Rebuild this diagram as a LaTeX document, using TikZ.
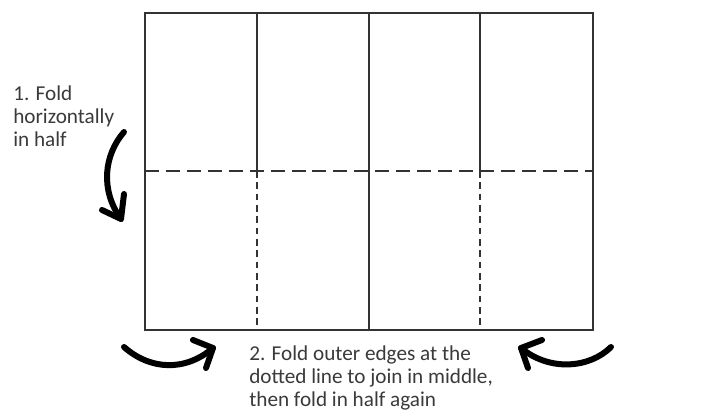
\documentclass[tikz,border=0pt]{standalone}
\usepackage{fontspec}
\setmainfont{Carlito}
\definecolor{linegray}{HTML}{333333}
\definecolor{textgray}{HTML}{3A3A3A}
\begin{document}
\begin{tikzpicture}[x=0.75pt,y=-0.75pt,
  edge/.style={draw=linegray,line width=1.5pt},
  longdash/.style={draw=linegray,line width=1.5pt,dash pattern=on 10.5pt off 5.2pt},
  shortdash/.style={draw=linegray,line width=1.4pt,dash pattern=on 5pt off 3.5pt},
  foldarrow/.style={draw=black,line width=4.5pt,line cap=round,line join=round},
  caption/.style={inner sep=0pt,align=left,text=textgray,font=\fontsize{15.9}{17.6}\selectfont}]
\useasboundingbox (0,0) rectangle (715,416);
% sheet
\coordinate (tl) at (145,13);
\coordinate (br) at (593,330);
\coordinate (ml) at (145,171);
\coordinate (mr) at (593,171);
\coordinate (a1) at (257,13);
\coordinate (a2) at (369,13);
\coordinate (a3) at (480,13);
\coordinate (b1) at (257,171);
\coordinate (b2) at (369,171);
\coordinate (b3) at (480,171);
\coordinate (c1) at (257,330);
\coordinate (c2) at (369,330);
\coordinate (c3) at (480,330);
\draw[longdash] (ml) -- (mr);
\draw[edge] (a1) -- (b1);
\draw[edge] (a2) -- (c2);
\draw[edge] (a3) -- (b3);
\draw[shortdash] (b1) -- (c1);
\draw[shortdash] (b3) -- (c3);
\draw[edge] (tl) rectangle (br);
% texts (base anchor = baseline of last line)
\node[caption,anchor=base west] (t1) at (13,147) {1. Fold\\horizontally\\in half};
\node[caption,anchor=base west] (t2) at (249,407) {2. Fold outer edges at the\\dotted line to join in middle,\\then fold in half again};
% arrows
\coordinate (l0) at (124,132);
\coordinate (l1) at (121,219);
\draw[foldarrow] (l0) .. controls (104,155) and (100,190) .. (l1);
\draw[foldarrow] (102,210) -- (l1) -- (124,194);
\coordinate (p0) at (124,347);
\coordinate (p1) at (213,348);
\draw[foldarrow] (p0) .. controls (150,370) and (185,372) .. (p1);
\draw[foldarrow] (193,340) -- (p1) -- (206,368);
\coordinate (q0) at (611,347);
\coordinate (q1) at (521,348);
\draw[foldarrow] (q0) .. controls (590,368) and (550,372) .. (q1);
\draw[foldarrow] (542,340) -- (q1) -- (528,368);
\end{tikzpicture}
\end{document}
